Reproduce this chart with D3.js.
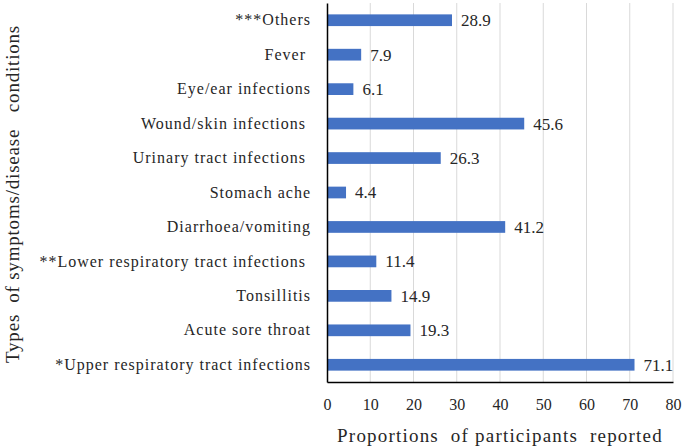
<!DOCTYPE html>
<html><head><meta charset="utf-8">
<script src="https://cdn.jsdelivr.net/npm/d3@7"></script>
<style>body{margin:0;background:#fff}svg{display:block}text{fill:#262626}</style>
</head><body>
<script>
const categories = ["***Others","Fever ","Eye/ear infections","Wound/skin infections ","Urinary tract infections ","Stomach ache","Diarrhoea/vomiting","**Lower respiratory tract infections ","Tonsillitis","Acute sore throat","*Upper respiratory tract infections"];
const values = [28.9,7.9,6.1,45.6,26.3,4.4,41.2,11.4,14.9,19.3,71.1];
const xTicks = [0,10,20,30,40,50,60,70,80];
const xTitle = "Proportions  of participants  reported";
const yTitle = "Types  of symptoms/disease   conditions";
const FONT = "'Liberation Serif', 'Times New Roman', 'DejaVu Serif', serif";

const W=685,H=448;
const svg=d3.select("body").append("svg").attr("width",W).attr("height",H).style("font-family",FONT);
const m={l:327,r:12,t:3,b:66};
const x=d3.scaleLinear().domain([0,80]).range([m.l,W-m.r]);
const y=d3.scaleBand().domain(categories).range([m.t,H-m.b]).paddingInner(0.66).paddingOuter(0.33);

svg.append("g").selectAll("line").data(xTicks.slice(1)).join("line")
 .attr("x1",d=>x(d)).attr("x2",d=>x(d)).attr("y1",m.t).attr("y2",H-m.b)
 .attr("stroke","#d9d9d9").attr("stroke-width",1);

svg.append("g").selectAll("rect").data(values).join("rect")
 .attr("x",x(0)).attr("y",(d,i)=>y(categories[i]))
 .attr("width",d=>x(d)-x(0)).attr("height",y.bandwidth()).attr("fill","#4472C4");

svg.append("g").selectAll("text").data(values).join("text")
 .attr("x",d=>x(d)+9).attr("y",(d,i)=>y(categories[i])+y.bandwidth()/2)
 .attr("dy","0.35em").style("font-size","17px").style("font-family",FONT).text(d=>d.toFixed(1));

const xa=svg.append("g").attr("transform",`translate(0,${H-m.b})`)
 .call(d3.axisBottom(x).tickValues(xTicks).tickSize(0).tickPadding(17));
xa.attr("font-family",null).attr("font-size",null);
xa.select(".domain").attr("stroke","#000").attr("stroke-width",1.5);
xa.selectAll("text").style("font-size","16px").style("font-family",FONT).attr("fill","#262626");

const ya=svg.append("g").attr("transform",`translate(${m.l},0)`)
 .call(d3.axisLeft(y).tickSize(0).tickPadding(16));
ya.attr("font-family",null).attr("font-size",null);
ya.select(".domain").attr("stroke","#000").attr("stroke-width",1.5);
ya.selectAll("text").style("font-size","16px").style("letter-spacing","1px").style("font-family",FONT).attr("fill","#262626").style("white-space","pre");

svg.append("text").attr("x",(x(0)+x(80))/2).attr("y",442).attr("text-anchor","middle")
 .style("font-size","19px").style("letter-spacing","1.2px").style("font-family",FONT).style("white-space","pre").text(xTitle);
svg.append("text").attr("transform","translate(19,194) rotate(-90)").attr("text-anchor","middle")
 .style("font-size","19px").style("letter-spacing","0.8px").style("font-family",FONT).style("white-space","pre").text(yTitle);
</script>
</body></html>
